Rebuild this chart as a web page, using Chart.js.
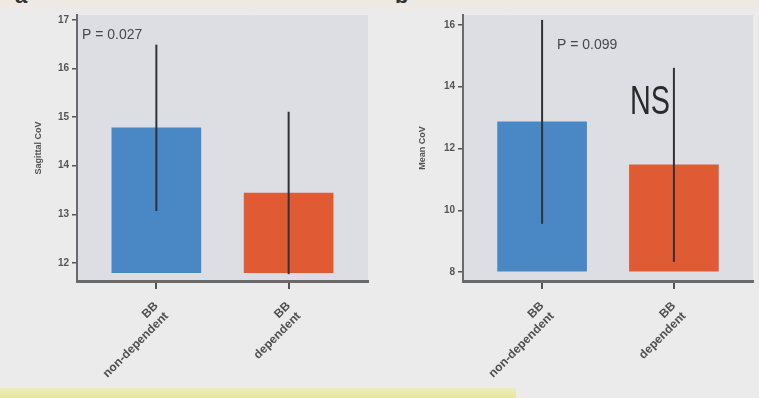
<!DOCTYPE html>
<html><head><meta charset="utf-8">
<script src="https://cdn.jsdelivr.net/npm/chart.js@4/dist/chart.umd.min.js"></script>
<style>
html,body{margin:0;padding:0;}
body{width:759px;height:398px;background:#ebebeb;position:relative;overflow:hidden;font-family:"Liberation Sans",Arial,sans-serif;}
#topstrip{position:absolute;left:0;top:0;width:759px;height:12px;background:linear-gradient(#efe9e2,#ecebea);}
#yellow{position:absolute;left:0;top:388px;width:516px;height:10px;background:linear-gradient(#ecebc0,#e9e79a);}
.panel{position:absolute;top:-17px;font-weight:bold;font-size:22px;color:#333;}
canvas{position:absolute;top:0;}
#c1{left:0;}
#c2{left:380px;}
</style></head>
<body>
<div id="topstrip"></div>
<div class="panel" style="left:15px;">a</div>
<div class="panel" style="left:395px;">b</div>
<canvas id="c1" width="380" height="398"></canvas>
<canvas id="c2" width="379" height="398"></canvas>
<div id="yellow"></div>
<script>
// ---- data ----
const categories = [["BB", "non-dependent"], ["BB", "dependent"]];
const sagittalValues = [14.78, 13.44];
const sagittalErrors = [1.71, 1.67];
const sagittalBase = 11.8;
const sagittalTicks = [12, 13, 14, 15, 16, 17];
const meanValues = [12.86, 11.47];
const meanErrors = [3.30, 3.14];
const meanBase = 8;
const meanTicks = [8, 10, 12, 14, 16];
const barColors = ["#4a87c5", "#e05a33"];

const plotBg = {
  id: 'plotBg',
  beforeDraw(chart) {
    const {ctx, chartArea: a} = chart;
    ctx.save();
    ctx.fillStyle = '#dcdee4';
    ctx.fillRect(a.left + 1, a.top, a.right - a.left - 1, a.bottom - a.top);
    ctx.restore();
  }
};

function errorPlugin(values, errors) {
  return {
    id: 'errBars',
    afterDatasetsDraw(chart) {
      const {ctx, scales: {x, y}} = chart;
      ctx.save();
      ctx.strokeStyle = '#2f3238';
      ctx.lineWidth = 2;
      values.forEach((v, i) => {
        const px = x.getPixelForValue(i);
        ctx.beginPath();
        ctx.moveTo(px, y.getPixelForValue(v + errors[i]));
        ctx.lineTo(px, y.getPixelForValue(v - errors[i]));
        ctx.stroke();
      });
      ctx.restore();
    }
  };
}

function textPlugin(items) {
  return {
    id: 'notes',
    afterDraw(chart) {
      const {ctx, chartArea: a} = chart;
      items.forEach(t => {
        ctx.save();
        ctx.font = t.font;
        ctx.fillStyle = t.color;
        ctx.textBaseline = 'middle';
        ctx.translate(a.left + t.dx, a.top + t.dy);
        ctx.scale(t.sx || 1, 1);
        ctx.fillText(t.text, 0, 0);
        ctx.restore();
      });
    }
  };
}

function makeChart(id, values, errors, base, ticks, yMin, yMax, title, yWidth, titlePad, padRight, notes) {
  return new Chart(document.getElementById(id), {
    type: 'bar',
    data: {
      datasets: [{
        data: values.map((v, i) => ({x: i, y: v})),
        base: base,
        backgroundColor: barColors,
        borderWidth: 0,
        barThickness: 89
      }]
    },
    options: {
      responsive: false,
      animation: false,
      events: [],
      layout: {padding: {top: 15, right: padRight, left: 0, bottom: 0}},
      plugins: {legend: {display: false}, tooltip: {enabled: false}},
      scales: {
        x: {
          type: 'linear',
          offset: false,
          bounds: 'data',
          min: -0.6, max: 1.6,
          afterBuildTicks: s => { s.ticks = categories.map((c, i) => ({value: i})); },
          afterFit: s => { s.height = 117; },
          ticks: {
            callback: (v) => categories[v],
            maxRotation: 45, minRotation: 45,
            autoSkip: false,
            font: {size: 12, weight: 'bold', family: 'Liberation Sans'},
            color: '#505050',
            padding: 10
          },
          grid: {offset: false, drawOnChartArea: false, drawTicks: true, tickLength: 8, color: '#555', lineWidth: 2},
          border: {color: '#6a6a6a', width: 3}
        },
        y: {
          min: yMin, max: yMax,
          afterBuildTicks: s => { s.ticks = ticks.map(v => ({value: v})); },
          afterFit: s => { s.width = yWidth; },
          ticks: {
            font: {size: 10, family: 'Liberation Sans', weight: 'bold'},
            color: '#555',
            padding: 3
          },
          grid: {drawOnChartArea: false, drawTicks: true, tickLength: 5, color: '#555', lineWidth: 1.5},
          border: {color: '#6a6a6a', width: 2},
          title: {display: true, text: title, color: '#555',
                  font: {size: 9, family: 'Liberation Sans', weight: 'bold'},
                  padding: {top: titlePad, bottom: 0}}
        }
      }
    },
    plugins: [plotBg, errorPlugin(values, errors), textPlugin(notes)]
  });
}

makeChart('c1', sagittalValues, sagittalErrors, sagittalBase, sagittalTicks, 11.63, 17.1,
  'Sagittal CoV', 77, 33, 12,
  [{text: 'P = 0.027', font: '14px "Liberation Sans"', color: '#484848', dx: 5, dy: 20}]);

makeChart('c2', meanValues, meanErrors, meanBase, meanTicks, 7.71, 16.32,
  'Mean CoV', 83, 37, 6,
  [{text: 'P = 0.099', font: '14px "Liberation Sans"', color: '#484848', dx: 94, dy: 30},
   {text: 'NS', font: '40px "Liberation Sans Narrow", "Liberation Sans"', color: '#2a2a2a', dx: 167, dy: 88, sx: 0.72}]);
</script>
</body></html>
